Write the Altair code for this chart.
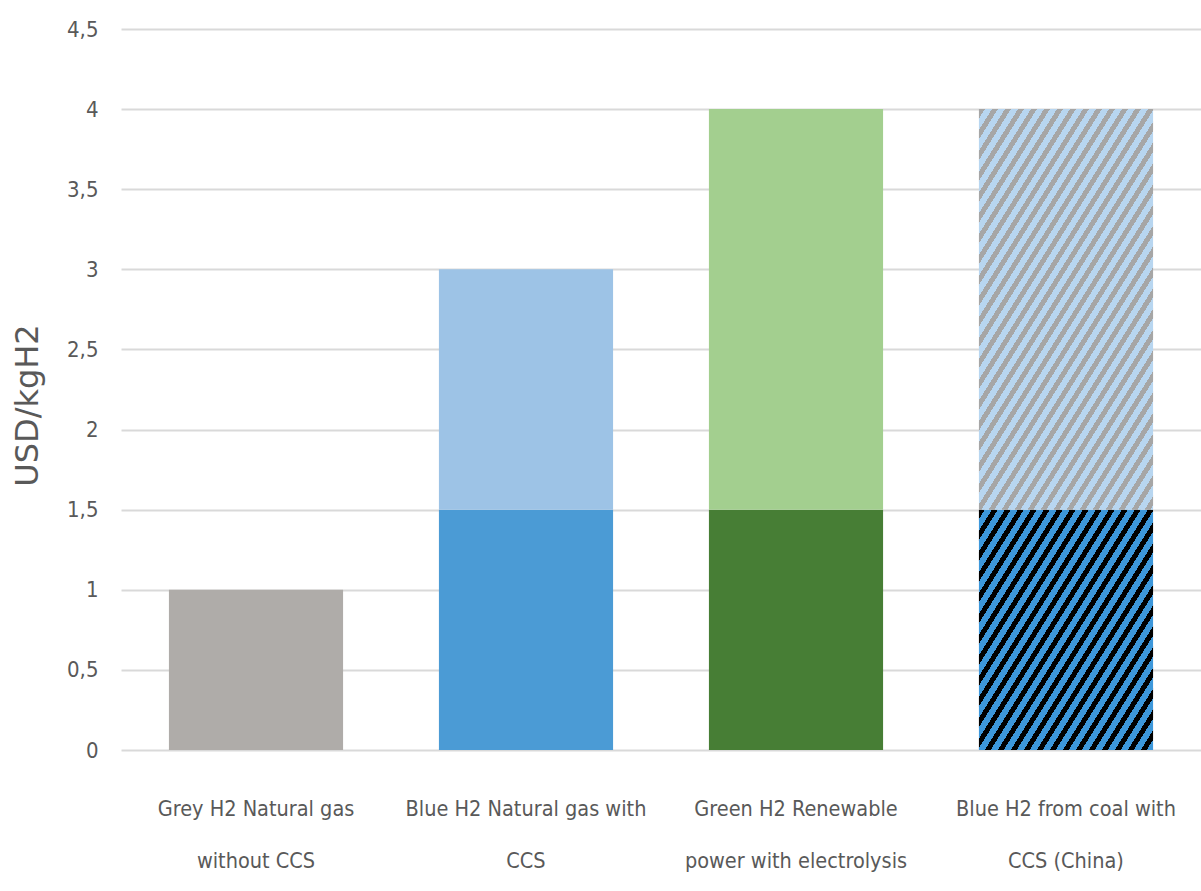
import math
import altair as alt
import pandas as pd

# ---- data ----
categories = [
    "Grey  H2 Natural gas|without CCS",
    "Blue  H2 Natural gas with|CCS",
    "Green H2 Renewable|power with electrolysis",
    "Blue H2 from coal with|CCS (China)",
]
lower_cost = [1.0, 1.5, 1.5, 1.5]   # USD/kgH2, lower end of range
upper_cost = [1.0, 3.0, 4.0, 4.0]   # USD/kgH2, upper end of range
lower_colors = ["#AFACA9", "#4B9BD5", "#477E35", "hatch"]
upper_colors = ["#AFACA9", "#9DC3E6", "#A3CF8F", "hatch"]
y_ticks = [0, 0.5, 1, 1.5, 2, 2.5, 3, 3.5, 4, 4.5]

rows = []
for i, c in enumerate(categories):
    rows.append({"cat": c, "y0": 0.0, "y1": lower_cost[i], "fill": lower_colors[i], "seg": "low", "idx": i})
    if upper_cost[i] > lower_cost[i]:
        rows.append({"cat": c, "y0": lower_cost[i], "y1": upper_cost[i], "fill": upper_colors[i], "seg": "high", "idx": i})
df = pd.DataFrame(rows)

W, H = 1080, 721
PAD_IN = 0.355
FONT = "Liberation Sans Narrow, DejaVu Sans Condensed, Arial Narrow, sans-serif"

bar_w = W / len(categories) * (1 - PAD_IN)


def hatch(h_px, c_line, c_back, frac, theta_deg=58, hperiod=13.0):
    th = math.radians(theta_deg)
    w = bar_w
    S = w * math.sin(th) + h_px * math.cos(th)
    k = S / ((math.sin(th) * w) ** 2 + (math.cos(th) * h_px) ** 2)
    gx = k * math.sin(th) * w
    gy = k * math.cos(th) * h_px
    per = hperiod * math.sin(th)
    n = int(S / per) + 1
    stops = []
    for j in range(n):
        a = j * per / S
        b = (j * per + per * frac) / S
        e = (j + 1) * per / S
        stops += [
            alt.GradientStop(offset=min(a, 1), color=c_line),
            alt.GradientStop(offset=min(b, 1), color=c_line),
            alt.GradientStop(offset=min(b, 1), color=c_back),
            alt.GradientStop(offset=min(e, 1), color=c_back),
        ]
    return alt.LinearGradient(gradient="linear", stops=stops, x1=0, y1=0, x2=gx, y2=gy)


x_enc = alt.X(
    "cat:N",
    sort=categories,
    scale=alt.Scale(paddingInner=PAD_IN, paddingOuter=PAD_IN / 2),
    axis=alt.Axis(
        title=None,
        labelAngle=0,
        labelExpr="split(datum.label, '|')",
        labelFont=FONT,
        labelFontSize=21.5,
        labelLineHeight=52,
        labelColor="#595959",
        labelPadding=48,
        labelBaseline="top",
        domain=False,
        ticks=False,
        grid=False,
        labelLimit=400,
    ),
)
y_enc = alt.Y(
    "y0:Q",
    scale=alt.Scale(domain=[0, 4.5], nice=False),
    axis=alt.Axis(
        title="USD/kgH2",
        values=y_ticks,
        labelExpr="replace(format(datum.value, '~g'), '.', ',')",
        labelFont=FONT,
        labelFontSize=22,
        labelColor="#595959",
        labelPadding=23,
        ticks=False,
        domain=False,
        gridColor="#D9D9D9",
        gridWidth=2,
        titleFont="DejaVu Sans",
        titleFontSize=32,
        titleFontWeight="normal",
        titleColor="#595959",
        titleX=-94,
        titleY=376,
        titleBaseline="middle",
        titleAlign="center",
    ),
)

base = alt.Chart(df)

solid = base.mark_bar().encode(
    x=x_enc, y=y_enc, y2="y1:Q", color=alt.Color("fill:N", scale=None)
).transform_filter("datum.fill != 'hatch'")

h_low = (1.5 - 0) * H / 4.5
h_high = (4.0 - 1.5) * H / 4.5

hatch_low = base.mark_bar(color=hatch(h_low, "#000000", "#3D97DA", 0.45)).encode(
    x=x_enc, y=y_enc, y2="y1:Q"
).transform_filter("datum.fill == 'hatch' && datum.seg == 'low'")

hatch_high = base.mark_bar(color=hatch(h_high, "#A6A6A6", "#B8D6F0", 0.45)).encode(
    x=x_enc, y=y_enc, y2="y1:Q"
).transform_filter("datum.fill == 'hatch' && datum.seg == 'high'")

chart = (
    alt.layer(solid, hatch_low, hatch_high)
    .properties(
        width=W,
        height=H,
        autosize=alt.AutoSizeParams(type="none"),
        padding={"left": 121, "top": 29, "right": 0, "bottom": 141},
        background="white",
    )
    .configure_view(stroke=None)
)

chart.save("out.html", embed_options={"renderer": "svg", "actions": False})
